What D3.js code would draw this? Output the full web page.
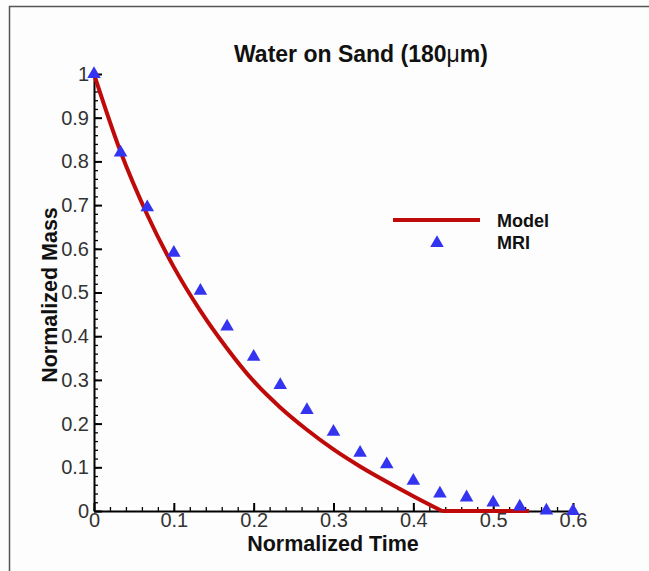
<!DOCTYPE html>
<html>
<head>
<meta charset="utf-8">
<script src="https://cdn.jsdelivr.net/npm/d3@7"></script>
<style>
  body { margin: 0; background: #fdfdfd; }
  svg { display: block; font-family: "Liberation Sans", Arial, sans-serif; }
</style>
</head>
<body>
<div id="wrapper"></div>
<script>
// model curve (normalized time, normalized mass)
const modelTime = [0, 0.0333, 0.0667, 0.1, 0.1333, 0.1667, 0.2, 0.2333, 0.2667, 0.3, 0.3333, 0.3667, 0.4, 0.436];
const modelMass = [1.0, 0.822, 0.678, 0.558, 0.458, 0.372, 0.297, 0.237, 0.186, 0.141, 0.102, 0.067, 0.034, 0.0];
// flat tail of the model after full drying
const tailTime = [0.436, 0.545];
const tailMass = [0.0, 0.0];

// MRI measurements
const mriTime = [0, 0.0333, 0.0667, 0.1, 0.1333, 0.1667, 0.2, 0.2333, 0.2667, 0.3, 0.3333, 0.3667, 0.4, 0.4333, 0.4667, 0.5, 0.5333, 0.5667, 0.6];
const mriMass = [1.0, 0.82, 0.695, 0.591, 0.504, 0.422, 0.353, 0.288, 0.231, 0.181, 0.133, 0.107, 0.069, 0.04, 0.031, 0.019, 0.01, 0.001, 0.0];

const xTicks = [0, 0.1, 0.2, 0.3, 0.4, 0.5, 0.6];
const yTicks = [0, 0.1, 0.2, 0.3, 0.4, 0.5, 0.6, 0.7, 0.8, 0.9, 1];

const seriesNames = ['Model', 'MRI'];

let width = 649,
    height = 571,
    margin = { left: 94, top: 74, right: 76, bottom: 60 },
    red = '#bf0a0a',
    blue = '#3434f0';

let svg = d3.select('div#wrapper')
            .append('svg')
            .attr('width', width)
            .attr('height', height);

// frame lines (top and left only, as in the picture)
svg.append('path')
   .attr('d', 'M9.5,571 V6.5 H649')
   .attr('fill', 'none')
   .attr('stroke', '#555')
   .attr('stroke-width', 1.5);

let x = d3.scaleLinear()
          .domain([0, 0.6])
          .range([margin.left, width - margin.right]);

let y = d3.scaleLinear()
          .domain([0, 1])
          .range([height - margin.bottom, margin.top]);

let xMinor = d3.axisBottom(x).tickValues(x.ticks(30)).tickSize(-4).tickSizeOuter(0).tickFormat('');
let yMinor = d3.axisLeft(y).tickValues(y.ticks(50)).tickSize(-4).tickSizeOuter(0).tickFormat('');

function styleMinor(g) {
  g.select('.domain').remove();
  g.selectAll('.tick line').attr('stroke', '#000').attr('stroke-width', 1.3);
}

svg.append('g')
   .attr('transform', 'translate(0,' + y(0) + ')')
   .call(xMinor)
   .call(styleMinor);

svg.append('g')
   .attr('transform', 'translate(' + x(0) + ',0)')
   .call(yMinor)
   .call(styleMinor);

let xAxis = d3.axisBottom(x)
              .tickValues(xTicks)
              .tickSize(-8)
              .tickSizeOuter(0)
              .tickFormat(d3.format('~g'));

let yAxis = d3.axisLeft(y)
              .tickValues(yTicks)
              .tickSize(-8)
              .tickSizeOuter(0)
              .tickFormat(d3.format('~g'));

function styleMajor(g) {
  g.attr('font-size', 20).attr('font-family', '"Liberation Sans", Arial, sans-serif');
  g.select('.domain').attr('stroke', '#000').attr('stroke-width', 2);
  g.selectAll('.tick line').attr('stroke', '#000').attr('stroke-width', 2);
  g.selectAll('.tick text').attr('fill', '#333');
}

svg.append('g')
   .attr('transform', 'translate(0,' + y(0) + ')')
   .call(xAxis)
   .call(styleMajor)
   .call(g => g.selectAll('.tick text').attr('y', 2));

svg.append('g')
   .attr('transform', 'translate(' + x(0) + ',0)')
   .call(yAxis)
   .call(styleMajor)
   .call(g => g.selectAll('.tick text').attr('x', -5));

// model line
let line = d3.line()
             .x(d => x(d[0]))
             .y(d => y(d[1]));

svg.append('path')
   .datum(modelTime.map((t, i) => [t, modelMass[i]]))
   .attr('fill', 'none')
   .attr('stroke', red)
   .attr('stroke-width', 4)
   .attr('d', line.curve(d3.curveMonotoneX));

svg.append('path')
   .datum(tailTime.map((t, i) => [t, tailMass[i]]))
   .attr('fill', 'none')
   .attr('stroke', red)
   .attr('stroke-width', 4)
   .attr('d', line.curve(d3.curveLinear));

// MRI triangles
let tri = d3.symbol().type(d3.symbolTriangle).size(80);
svg.append('g')
   .selectAll('path')
   .data(mriTime.map((t, i) => [t, mriMass[i]]))
   .enter()
   .append('path')
   .attr('d', tri)
   .attr('transform', d => 'translate(' + x(d[0]) + ',' + y(d[1]) + ')')
   .attr('fill', blue);

// title
let title = svg.append('text')
   .attr('x', 361)
   .attr('y', 62)
   .attr('text-anchor', 'middle')
   .style('font-size', '23px')
   .style('font-weight', 'bold')
   .attr('fill', '#111');
title.append('tspan').text('Water on Sand (180');
title.append('tspan').style('font-weight', 'normal').text('μ');
title.append('tspan').text('m)');

// axis titles
svg.append('text')
   .attr('x', 333)
   .attr('y', 551)
   .attr('text-anchor', 'middle')
   .style('font-size', '21.5px')
   .style('font-weight', 'bold')
   .attr('fill', '#111')
   .text('Normalized Time');

svg.append('text')
   .attr('transform', 'translate(57,295) rotate(-90)')
   .attr('text-anchor', 'middle')
   .style('font-size', '21.5px')
   .style('font-weight', 'bold')
   .attr('fill', '#111')
   .text('Normalized Mass');

// legend
let legend = svg.append('g').attr('transform', 'translate(393,220)');
legend.append('line')
      .attr('x1', 0).attr('x2', 87)
      .attr('y1', 0).attr('y2', 0)
      .attr('stroke', red)
      .attr('stroke-width', 4);
legend.append('path')
      .attr('d', tri)
      .attr('transform', 'translate(44,23)')
      .attr('fill', blue);
legend.selectAll('text.leg')
      .data(seriesNames)
      .enter()
      .append('text')
      .attr('class', 'leg')
      .attr('x', 104)
      .attr('y', (d, i) => i * 22 + 7)
      .style('font-size', '18px')
      .style('font-weight', 'bold')
      .attr('fill', '#111')
      .text(d => d);
</script>
</body>
</html>
